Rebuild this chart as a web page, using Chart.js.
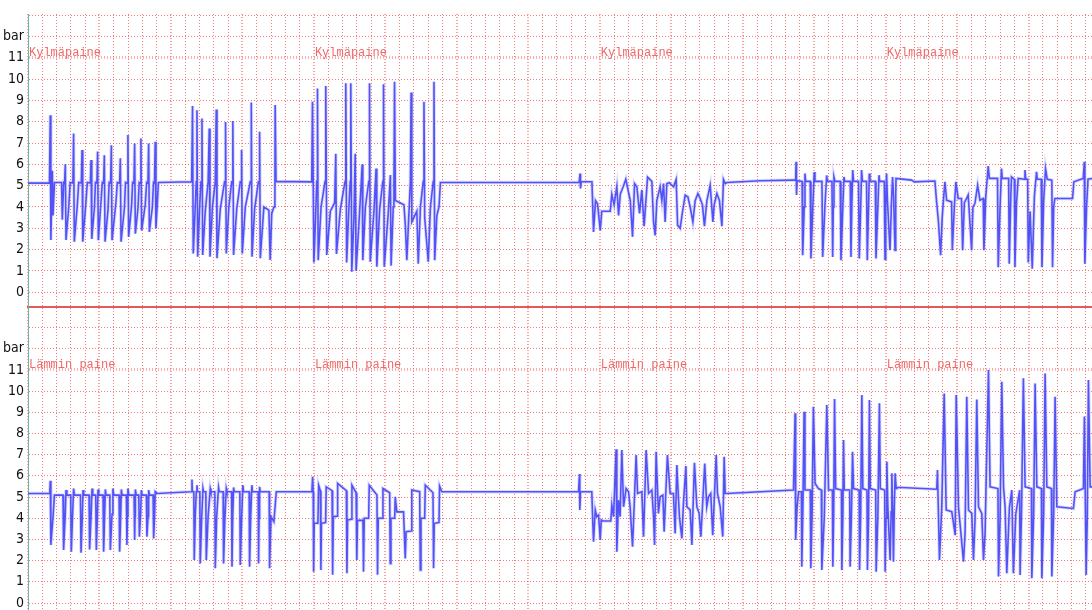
<!DOCTYPE html>
<html>
<head>
<meta charset="utf-8">
<script src="https://cdn.jsdelivr.net/npm/chart.js@4.4.1/dist/chart.umd.min.js"></script>
<style>
  html, body { margin: 0; padding: 0; background: #fff; }
  #wrap { position: relative; width: 1092px; height: 610px; overflow: hidden; }
  #topChart { position: absolute; left: 0; top: 0; }
  #bottomChart { position: absolute; left: 0; top: 308px; }
</style>
</head>
<body>
<div id="wrap">
  <canvas id="topChart" width="1092" height="308"></canvas>
  <canvas id="bottomChart" width="1092" height="302"></canvas>
</div>
<script>
// Time in minutes, pressure in bar
const kylmapaine = [
  [0,5.12],[1.5,5.12],[1.56,8.3],[1.6,2.45],[1.7,5.7],[1.75,3.6],[1.85,5.15],
  [2.35,5.15],[2.4,3.4],[2.5,5.15],
  [2.56,5.12],[2.61,6.0],[2.66,2.45],[2.85,4.0],[2.95,5.15],
  [3.14,5.12],[3.19,7.45],[3.24,2.37],[3.45,4.1],[3.55,5.15],
  [3.73,5.12],[3.78,6.67],[3.83,2.37],[4.05,4.2],[4.15,5.15],
  [4.36,5.12],[4.41,6.2],[4.46,2.5],[4.65,4.0],[4.72,5.15],
  [4.82,5.12],[4.87,6.6],[4.92,2.44],[5.1,4.2],[5.2,5.15],
  [5.29,5.12],[5.34,6.43],[5.39,2.37],[5.6,3.9],[5.68,5.15],
  [5.78,5.12],[5.83,6.9],[5.88,2.44],[6.15,4.2],[6.25,5.15],
  [6.41,5.12],[6.46,6.28],[6.51,2.37],[6.75,4.0],[6.82,5.15],
  [6.94,5.12],[6.99,7.37],[7.04,2.6],[7.25,4.1],[7.32,5.15],
  [7.41,5.12],[7.46,6.98],[7.51,2.75],[7.7,4.0],[7.78,5.15],
  [7.85,5.12],[7.9,7.21],[7.95,2.9],[8.2,4.1],[8.3,5.15],
  [8.39,5.12],[8.44,6.98],[8.49,2.83],[8.7,4.0],[8.78,5.15],
  [8.85,5.12],[8.9,7.06],[8.95,2.99],[9.05,4.2],[9.12,5.15],
  [11.45,5.18],
  [11.51,8.73],[11.56,1.82],[11.7,4.0],[11.77,5.18],
  [11.82,8.54],[11.87,1.67],[12.0,3.9],[12.1,5.18],
  [12.15,5.18],[12.17,8.15],[12.22,1.75],[12.4,3.8],[12.6,5.18],
  [12.66,5.18],[12.68,7.68],[12.73,1.67],[12.9,4.0],[13.1,5.18],
  [13.15,5.18],[13.17,8.57],[13.22,1.6],[13.45,3.9],[13.75,5.18],
  [13.8,5.18],[13.82,7.99],[13.87,1.82],[14.05,4.0],[14.25,5.18],
  [14.31,5.18],[14.33,8.03],[14.38,1.75],[14.6,3.9],[14.85,5.18],
  [14.92,5.18],[14.94,6.67],[14.99,1.82],[15.2,4.0],[15.55,5.18],
  [15.6,5.18],[15.62,8.9],[15.67,1.67],[15.85,3.9],[16.12,5.18],
  [16.18,5.18],[16.2,7.53],[16.25,1.6],[16.5,4.0],[16.85,3.85],[16.94,1.52],[17.05,3.7],[17.2,4.0],[17.27,4.0],[17.29,8.78],[17.35,5.2],
  [19.85,5.18],
  [19.9,8.94],[20.0,1.4],[20.1,3.2],[20.2,5.2],
  [20.23,5.2],[20.25,9.56],[20.3,1.5],[20.5,4.0],[20.78,5.2],
  [20.82,5.2],[20.84,9.67],[20.9,1.75],[21.15,3.8],[21.45,4.2],[21.53,6.5],[21.58,1.8],[21.85,3.9],[22.18,5.2],
  [22.22,5.2],[22.24,9.8],[22.29,1.4],[22.45,4.0],[22.54,5.2],
  [22.57,5.2],[22.59,9.8],[22.65,0.96],[22.8,3.5],[22.89,6.5],[22.95,1.0],[23.2,3.8],[23.38,6.0],[23.42,1.5],[23.6,4.0],[23.84,5.2],
  [23.87,5.2],[23.89,9.8],[23.94,1.43],[24.2,3.8],[24.35,5.8],[24.4,1.2],[24.6,3.9],[24.82,5.2],
  [24.85,5.2],[24.87,9.76],[24.92,1.2],[25.2,3.7],[25.35,5.5],[25.4,1.25],[25.55,4.0],[25.6,5.2],
  [25.64,9.87],[25.7,4.3],[26.3,4.1],[26.4,3.1],[26.5,1.5],[26.6,3.0],[26.75,5.2],
  [26.8,9.37],[26.85,3.3],[27.2,3.8],[27.3,1.34],[27.45,4.0],[27.65,5.2],
  [27.7,8.94],[27.75,3.5],[28.0,1.43],[28.15,4.0],[28.35,5.2],
  [28.4,9.87],[28.45,1.5],[28.6,3.6],[28.75,4.0],[28.85,5.15],
  [38.55,5.15],[38.62,5.57],[38.65,4.87],[38.7,5.18],[39.45,5.18],
  [39.56,2.83],[39.7,4.3],[39.84,4.15],[40.03,2.9],[40.14,3.8],[40.73,3.8],[40.84,4.6],[41.0,4.1],[41.19,4.96],[41.31,3.6],[41.43,4.6],[41.66,5.0],[41.82,5.3],[42.13,4.3],[42.29,2.6],[42.43,5.1],[42.59,4.95],[42.78,3.7],[42.94,4.8],[43.1,3.1],[43.34,5.4],[43.64,5.2],[43.76,3.3],[43.87,2.67],[43.99,4.3],[44.22,4.95],[44.34,4.3],[44.46,5.1],[44.57,3.3],[44.69,5.1],[44.85,5.14],[45.16,4.95],[45.34,5.3],[45.44,3.15],[45.62,3.0],[45.79,3.8],[45.97,4.55],[46.16,4.48],[46.32,4.0],[46.51,3.3],[46.67,4.3],[46.86,4.63],[47.02,4.4],[47.18,4.1],[47.32,3.1],[47.49,4.3],[47.72,5.02],[47.91,3.3],[48.0,4.1],[48.19,4.63],[48.37,4.3],[48.54,3.1],[48.65,5.29],[48.77,5.1],[48.89,5.15],[51.22,5.23],[53.55,5.26],
  [53.7,5.26],[53.73,6.12],[53.76,4.56],[53.8,5.23],
  [54.15,5.2],[54.19,1.74],[54.3,4.0],[54.35,5.57],[54.4,5.2],
  [54.72,5.2],[54.77,1.58],[54.9,4.0],[55.0,5.64],[55.05,5.2],
  [55.54,5.2],[55.59,1.66],[55.75,4.1],[55.87,5.48],[55.92,5.2],
  [56.24,5.2],[56.29,1.66],[56.33,4.0],[56.38,5.41],[56.45,5.2],
  [56.82,5.2],[56.87,1.5],[57.0,4.0],[57.08,5.41],[57.13,5.2],
  [57.52,5.2],[57.57,1.66],[57.63,4.1],[57.69,5.73],[57.75,5.2],
  [58.1,5.2],[58.15,1.58],[58.25,4.0],[58.31,5.73],[58.37,5.2],
  [58.66,5.2],[58.71,1.5],[58.8,4.0],[58.85,5.57],[58.9,5.2],
  [59.27,5.2],[59.32,1.58],[59.45,4.0],[59.53,5.49],[59.58,5.2],
  [59.9,5.2],[59.95,1.55],[60.0,4.0],[60.06,5.57],[60.12,4.3],[60.3,1.97],[60.4,4.2],[60.48,5.41],[60.55,4.5],[60.65,1.97],[60.7,4.5],[60.72,5.34],
  [61.81,5.26],[62.0,5.18],[63.44,5.22],
  [63.56,4.24],[63.68,3.38],[63.84,1.74],[63.95,3.5],[64.03,4.24],[64.14,5.18],[64.26,4.32],[64.61,4.24],[64.66,1.97],[64.8,4.0],[64.91,5.18],[65.07,4.4],[65.3,4.4],[65.38,1.97],[65.5,4.2],[65.66,4.4],[65.77,4.56],[66.01,1.97],[66.1,4.0],[66.24,4.16],[66.43,5.02],[66.59,4.32],[66.82,4.4],[66.87,1.97],[67.0,4.5],[67.17,5.92],[67.25,5.34],[67.82,5.34],
  [67.87,1.18],[68.0,4.0],[68.1,5.8],[68.15,5.34],[68.6,5.34],[68.64,1.34],[68.75,4.5],[68.8,5.41],[69.0,5.3],[69.04,1.18],[69.15,4.2],[69.27,5.34],
  [69.7,5.3],[69.74,5.73],[69.8,5.3],[69.93,5.3],[69.97,1.4],[70.1,3.8],[70.25,1.1],[70.4,4.5],[70.55,5.65],[70.6,5.3],[70.88,5.3],[70.93,1.18],[71.05,4.3],[71.18,5.8],[71.3,5.3],[71.62,5.26],[71.67,1.18],[71.75,4.0],[71.83,4.4],[73.07,4.4],[73.16,5.18],[73.82,5.34],[73.89,6.12],[73.93,1.34],[74.05,4.0],[74.15,5.3],[74.45,5.34]
];

const lamminPaine = [
  [0,5.17],[1.52,5.17],[1.56,5.77],[1.6,2.74],[1.75,4.07],[1.85,5.09],
  [2.45,5.09],[2.49,2.5],[2.6,4.1],[2.66,5.33],[2.72,5.09],
  [2.99,5.09],[3.03,2.42],[3.12,4.2],[3.19,5.4],[3.25,5.09],
  [3.67,5.09],[3.71,2.37],[3.8,4.1],[3.85,5.33],[3.9,5.09],
  [4.27,5.09],[4.31,2.53],[4.42,4.2],[4.48,5.4],[4.53,5.09],
  [4.74,5.09],[4.78,2.5],[4.85,4.0],[4.9,5.36],[4.95,5.09],
  [5.25,5.09],[5.29,2.42],[5.36,4.1],[5.41,5.36],[5.46,5.09],
  [5.72,5.09],[5.76,2.5],[5.88,4.2],[5.94,5.4],[6.0,5.09],
  [6.37,5.09],[6.41,2.42],[6.48,4.0],[6.53,5.36],[6.58,5.09],
  [6.88,5.09],[6.92,2.74],[6.96,4.1],[6.99,5.4],[7.05,5.09],
  [7.42,5.09],[7.46,2.97],[7.49,4.1],[7.51,5.36],[7.57,5.09],
  [7.75,5.09],[7.79,3.13],[7.88,4.2],[7.93,5.33],[7.98,5.09],
  [8.28,5.09],[8.32,3.13],[8.4,4.1],[8.44,5.33],[8.5,5.09],
  [8.75,5.09],[8.79,3.05],[8.86,4.2],[8.9,5.25],[9.02,5.17],
  [11.42,5.25],
  [11.47,5.83],[11.5,5.25],[11.6,5.25],[11.63,2.03],[11.7,4.07],[11.77,5.25],[11.82,5.56],[11.86,5.25],[12.02,5.25],[12.05,1.87],[12.15,4.0],[12.24,5.4],[12.28,5.25],[12.44,5.25],[12.47,2.03],[12.6,4.1],[12.75,5.4],[12.8,5.25],[13.07,5.25],[13.1,1.64],[13.2,4.1],[13.33,5.45],[13.38,5.25],[13.65,5.25],[13.68,1.87],[13.78,4.1],[13.87,5.4],[13.92,5.25],[14.24,5.25],[14.27,1.71],[14.32,4.0],[14.38,5.45],[14.43,5.25],[14.82,5.25],[14.85,1.79],[14.95,4.1],[15.03,5.56],[15.08,5.25],[15.47,5.25],[15.5,1.71],[15.58,4.1],[15.66,5.56],[15.7,5.25],[16.1,5.25],[16.13,1.87],[16.16,4.0],[16.2,5.48],[16.25,5.25],[16.87,5.25],[16.9,1.64],[17.0,4.07],[17.2,3.84],[17.37,5.25],
  [19.86,5.25],
  [19.91,5.96],[19.95,5.25],[19.98,1.48],[20.02,3.76],[20.28,3.76],[20.33,5.56],[20.45,5.3],[20.49,1.56],[20.53,3.76],[20.82,3.8],[20.86,5.48],[21.27,5.3],[21.31,1.33],[21.36,4.07],[21.62,4.1],[21.66,5.64],[22.27,5.3],[22.31,1.4],[22.36,3.92],[22.62,3.95],[22.66,5.56],[22.95,5.2],[23.0,2.03],[23.05,3.9],[23.43,3.9],[23.47,1.48],[23.52,4.0],[23.83,4.0],[23.87,5.56],[24.41,5.1],[24.45,1.33],[24.5,4.0],[24.79,4.0],[24.83,5.4],[25.3,5.2],[25.34,1.87],[25.39,4.0],[25.65,4.0],[25.69,5.01],[25.8,4.3],[26.27,4.3],[26.39,2.1],[26.45,3.36],[26.81,3.4],[26.85,5.33],[27.4,5.25],[27.44,1.56],[27.49,4.0],[27.75,4.0],[27.79,5.56],[28.33,5.2],[28.37,1.64],[28.42,3.76],[28.75,3.8],[28.79,5.52],[28.95,5.25],
  [38.51,5.25],[38.58,6.09],[38.6,4.39],[38.65,5.25],[39.44,5.25],
  [39.51,3.76],[39.56,2.89],[39.68,4.39],[39.79,4.07],[39.91,4.15],[40.03,2.97],[40.1,3.92],[40.21,3.87],[40.77,3.87],[40.84,4.62],[40.96,4.07],[41.14,7.25],[41.19,2.42],[41.31,4.86],[41.42,4.07],[41.54,7.22],[41.66,4.54],[41.84,5.4],[42.01,5.25],[42.12,4.54],[42.29,2.66],[42.4,4.54],[42.54,6.98],[42.64,5.17],[42.94,5.25],[43.06,3.13],[43.24,7.22],[43.41,5.17],[43.64,5.33],[43.76,4.07],[43.83,2.74],[43.94,7.14],[44.1,4.23],[44.22,5.01],[44.41,5.09],[44.5,3.36],[44.73,6.98],[44.92,5.17],[45.15,5.17],[45.27,3.28],[45.39,6.51],[45.46,5.48],[45.57,4.07],[45.74,3.05],[45.85,4.7],[46.02,6.46],[46.09,4.54],[46.32,4.39],[46.44,2.74],[46.62,6.62],[46.79,4.54],[46.95,4.23],[47.07,3.13],[47.34,6.58],[47.48,4.54],[47.6,5.01],[47.76,5.17],[47.9,3.2],[48.14,6.98],[48.23,5.17],[48.42,4.54],[48.6,3.13],[48.7,6.9],[48.77,5.17],[48.88,5.17],[53.55,5.33],
  [53.66,8.95],[53.7,2.97],[53.8,4.5],[53.9,5.25],[54.1,5.25],[54.13,1.71],[54.2,4.2],[54.29,9.02],[54.35,5.33],[54.72,5.33],[54.76,1.64],[54.85,4.2],[54.94,9.26],[55.06,5.64],[55.29,5.4],[55.5,5.33],[55.53,1.56],[55.7,4.0],[55.88,9.34],[56.0,5.33],[56.27,5.33],[56.3,1.71],[56.36,4.2],[56.42,9.63],[56.5,5.4],[56.9,5.33],[56.93,1.56],[57.0,4.0],[57.05,7.69],[57.1,5.33],[57.48,5.33],[57.51,1.71],[57.6,4.1],[57.68,7.14],[57.75,5.4],[58.14,5.33],[58.17,1.56],[58.25,4.2],[58.33,9.81],[58.4,5.4],[58.69,5.33],[58.72,1.56],[58.8,4.0],[58.86,9.58],[58.92,5.4],[59.3,5.33],[59.33,1.48],[59.45,4.1],[59.56,9.42],[59.62,5.4],[59.93,5.33],[59.96,1.48],[60.02,4.0],[60.08,6.67],[60.15,4.5],[60.31,2.03],[60.38,4.3],[60.43,6.12],[60.48,4.5],[60.54,1.95],[60.6,4.5],[60.66,6.12],[60.73,5.4],[60.78,5.46],[63.57,5.37],
  [63.62,6.27],[63.76,2.03],[63.92,4.54],[64.09,9.89],[64.23,4.39],[64.62,4.31],[64.86,3.2],[64.93,9.81],[65.09,4.54],[65.44,1.95],[65.55,3.28],[65.67,9.73],[65.79,4.39],[66.02,4.23],[66.14,2.03],[66.25,4.0],[66.37,9.6],[66.49,4.54],[66.72,4.23],[66.84,2.03],[66.95,3.28],[67.19,10.99],[67.3,5.48],[67.85,5.4],[67.89,1.25],[68.0,4.0],[68.12,10.44],[68.24,5.48],[68.35,4.54],[68.47,1.4],[68.65,4.5],[68.82,5.33],[68.93,1.4],[69.1,4.2],[69.37,5.33],[69.4,1.32],[69.5,4.3],[69.63,10.6],[69.75,5.48],[70.19,5.4],[70.22,1.17],[70.35,4.2],[70.45,10.36],[70.57,5.48],[70.89,5.4],[70.92,1.17],[71.05,4.2],[71.15,10.83],[71.27,5.48],[71.59,5.4],[71.62,1.25],[71.75,4.2],[71.85,9.73],[71.97,4.54],[73.13,4.46],[73.25,5.25],[73.83,5.4],[73.9,8.8],[74.02,1.32],[74.1,4.0],[74.18,10.52],[74.3,5.48],[74.45,5.48]
];

// Axis stuff
const yTickValues = [0, 1, 2, 3, 4, 5, 6, 7, 8, 9, 10, 11, 12, 13];
const yTickLabels = ['0', '1', '2', '3', '4', '5', '6', '7', '8', '9', '10', '11', 'bar', ''];
const labelMinutes = [0, 20, 40, 60]; // where the channel name gets repeated
const totalMinutes = 74.43;

// Channel name written in red along the 11 bar line
const channelLabel = {
    id: 'channelLabel',
    beforeDatasetsDraw(chart, args, opts) {
        const { ctx, scales: { x, y } } = chart;
        ctx.save();
        ctx.font = '12px "Liberation Mono", "DejaVu Sans Mono", monospace';
        ctx.fillStyle = '#f06868';
        ctx.textBaseline = 'alphabetic';
        labelMinutes.forEach(m => {
            ctx.fillText(opts.text, x.getPixelForValue(m) + 1, y.getPixelForValue(11) - 2);
        });
        ctx.restore();
    }
};

const makePanel = (canvasId, data, name, yMin, yMax, padding, separator) => new Chart(document.getElementById(canvasId), {
    type: 'line',
    data: {
        datasets: [{
            // the trace itself
            data: data,
            borderColor: 'rgba(70, 70, 245, 0.92)',
            borderWidth: 1.6,
            pointRadius: 0,
            tension: 0,
            fill: false
        }, {
            // pale smear the plotter leaves round the trace
            data: data,
            borderColor: 'rgba(140, 140, 255, 0.32)',
            borderWidth: 3.5,
            pointRadius: 0,
            tension: 0,
            fill: false
        }]
    },
    options: {
        responsive: false,
        animation: false,
        layout: { padding: padding },
        plugins: {
            legend: { display: false },
            tooltip: { enabled: false },
            channelLabel: { text: name }
        },
        scales: {
            x: {
                type: 'linear',
                min: 0,
                max: totalMinutes,
                afterBuildTicks: (scale) => {
                    const t = [];
                    for (let m = 0; m <= 74; m++) t.push({ value: m });
                    scale.ticks = t;
                },
                afterFit: (scale) => {
                    scale.height = 0;
                    scale.paddingLeft = 0;
                    scale.paddingRight = 0;
                },
                ticks: { display: false },
                grid: {
                    drawTicks: false,
                    color: (c) => c.tick && c.tick.value % 5 === 0 ? 'rgba(250, 130, 130, 0.75)' : 'rgba(240, 90, 90, 0.8)',
                    lineWidth: (c) => c.tick && c.tick.value % 5 === 0 ? 2 : 1
                },
                border: { display: separator, color: '#e25a5a', width: 2, dash: [1, 2] }
            },
            y: {
                min: yMin,
                max: yMax,
                afterBuildTicks: (scale) => {
                    scale.ticks = yTickValues.map(v => ({ value: v }));
                },
                // fixed axis width, and no extra room for the end labels
                afterFit: (scale) => {
                    scale.width = 28;
                    scale.paddingTop = 0;
                    scale.paddingBottom = 0;
                },
                ticks: {
                    autoSkip: false,
                    padding: 4,
                    color: '#111',
                    font: { family: '"Liberation Sans Narrow", "DejaVu Sans Condensed", "Liberation Sans", sans-serif', size: 14 },
                    callback: (value) => yTickLabels[yTickValues.indexOf(value)]
                },
                grid: {
                    drawTicks: false,
                    color: (c) => c.tick && c.tick.value === 11 ? 'rgba(250, 120, 120, 0.6)' : 'rgba(240, 90, 90, 0.8)',
                    lineWidth: (c) => c.tick && c.tick.value === 11 ? 3 : 1
                },
                border: { display: true, color: '#6fb3a2', width: 1, dash: [1, 2] }
            }
        }
    },
    plugins: [channelLabel]
});

makePanel('topChart', kylmapaine, 'Kylmäpaine', -0.69, 13.05, { top: 14, bottom: 1, left: 0, right: 0 }, true);
makePanel('bottomChart', lamminPaine, 'Lämmin paine', -0.33, 13.92, { top: 0, bottom: 0, left: 0, right: 0 }, false);
</script>
</body>
</html>
